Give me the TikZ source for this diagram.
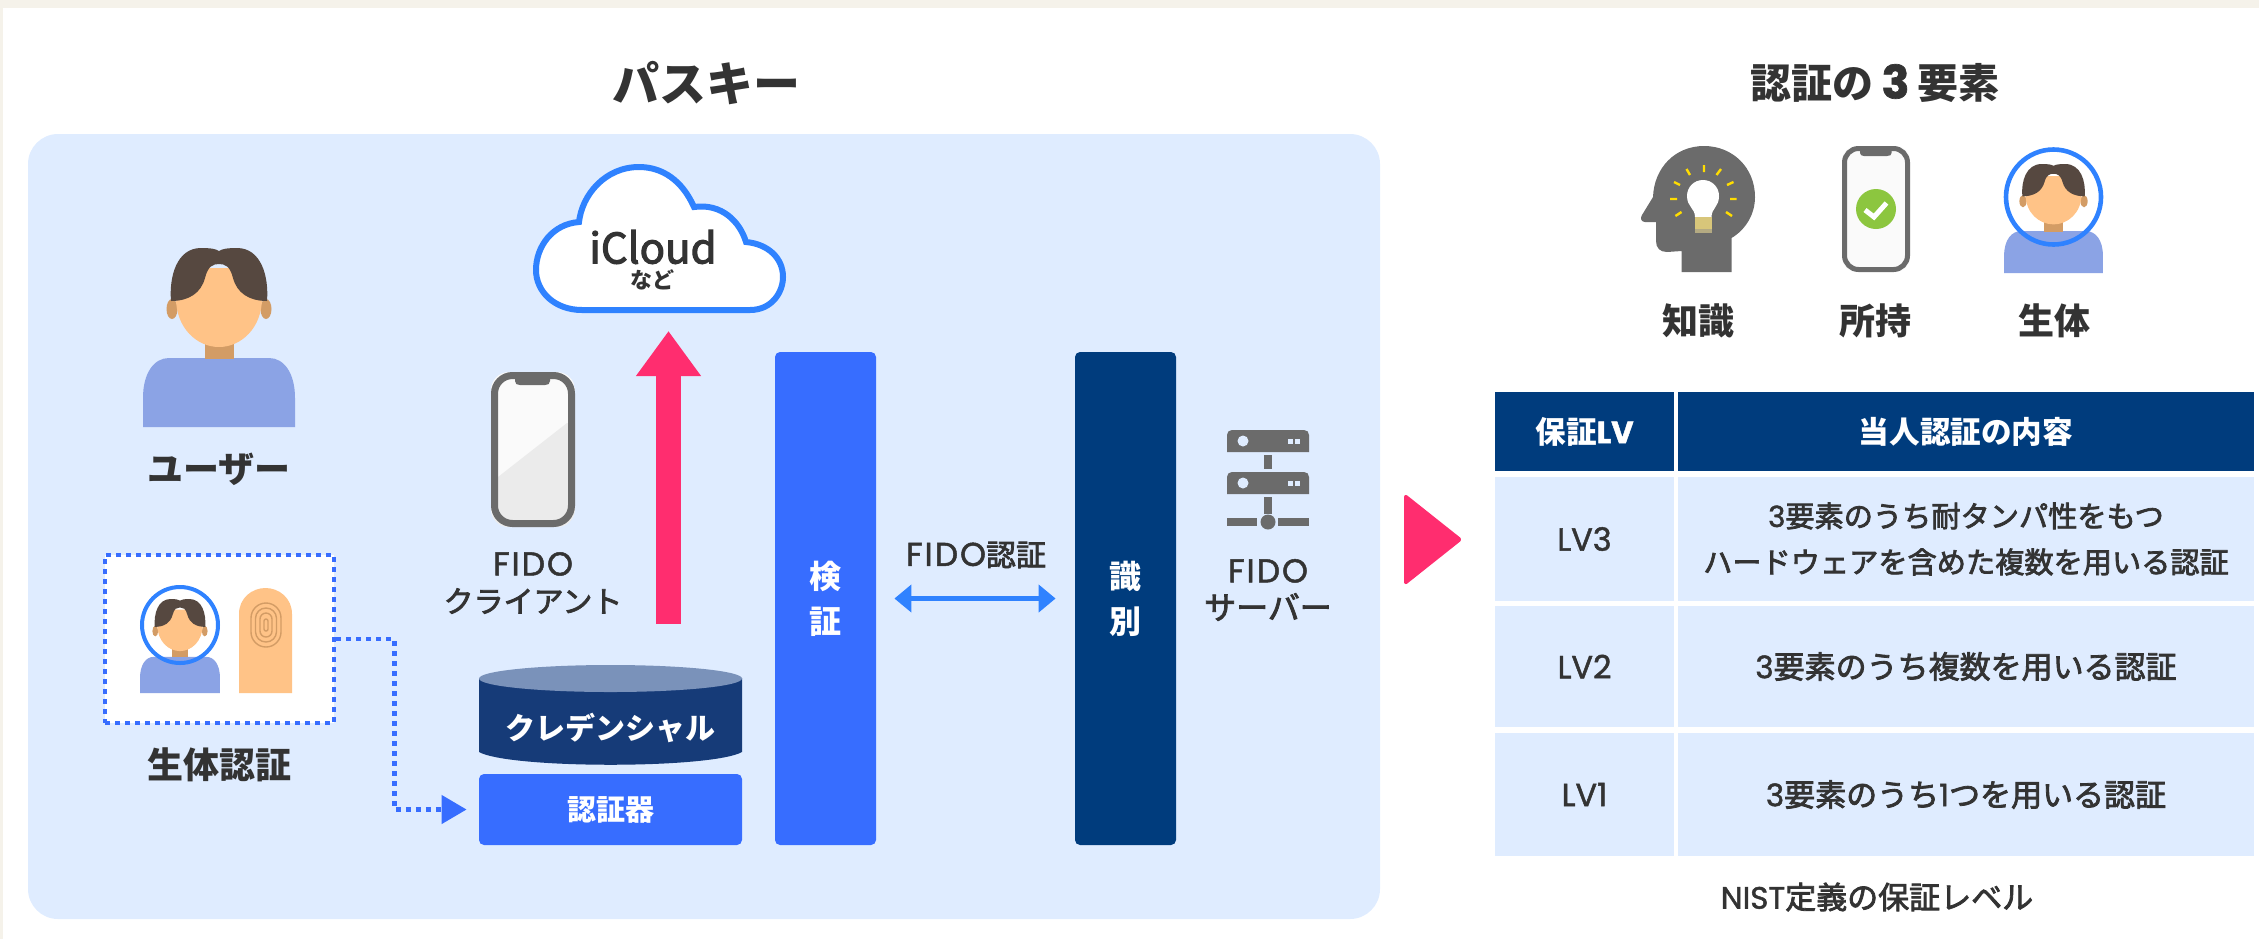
\documentclass[tikz,border=0pt]{standalone}
\usepackage{fontspec}
\setmainfont{Noto Sans CJK JP}
\newfontfamily\medfont[FakeBold=2.5]{Noto Sans CJK JP}
\newfontfamily\latinfont[FakeBold=1.5]{Poppins}
\newfontfamily\fidofont[FakeBold=1.5,LetterSpace=6]{Poppins}
\usetikzlibrary{arrows.meta}

\definecolor{paperband}{RGB}{245,242,234}
\definecolor{panelblue}{RGB}{223,236,255}
\definecolor{keyblue}{RGB}{55,109,255}
\definecolor{navyblue}{RGB}{0,60,125}
\definecolor{credblue}{RGB}{22,59,120}
\definecolor{credtop}{RGB}{122,146,186}
\definecolor{ringblue}{RGB}{47,130,255}
\definecolor{hotpink}{RGB}{255,45,111}
\definecolor{iconcolor}{RGB}{107,107,107}
\definecolor{inkcolor}{RGB}{51,51,51}
\definecolor{hairbrown}{RGB}{86,72,64}
\definecolor{skincolor}{RGB}{255,195,135}
\definecolor{skindark}{RGB}{211,156,101}
\definecolor{shirtblue}{RGB}{139,163,229}
\definecolor{checkgreen}{RGB}{140,198,63}
\definecolor{bulbbase}{RGB}{216,198,122}
\definecolor{bulbfoot}{RGB}{180,170,130}
\definecolor{raycolor}{RGB}{255,221,0}

\newcommand{\fsz}[2]{\fontsize{#1}{#2}\selectfont}
\newcommand{\lat}[1]{{\latinfont #1}}
\newcommand{\fido}{{\fidofont\fsz{16.5}{18.5}FIDO}}

\tikzset{
  boldlabel/.style={text=inkcolor,font=\bfseries\fsz{18}{22},inner sep=0pt},
  medlabel/.style={text=inkcolor,font=\medfont\fsz{15}{18.5},align=center,inner sep=0pt},
  barbox/.style={rounded corners=2.5pt,minimum width=50.5pt,minimum height=246.5pt,inner sep=0pt,text=white,align=center,font=\bfseries\fsz{16}{22.5}},
  headcell/.style={fill=navyblue,text=white,inner sep=0pt,align=center,font=\bfseries\fsz{15.3}{20}},
  levelcell/.style={fill=panelblue,text=inkcolor,inner sep=0pt,align=center,font=\medfont\fsz{14.6}{23}},
  ringline/.style={draw=ringblue,line width=2pt},
  dotline/.style={draw=keyblue,line width=2.25pt,dash pattern=on 2.6pt off 2.4pt},
  pics/person/.style={code={
    %Shape: Body
    \fill[shirtblue] (-76,179) -- (-76,150) .. controls (-76,125) and (-65,110) .. (-50,110) -- (50,110) .. controls (65,110) and (76,125) .. (76,150) -- (76,179) -- cycle ;
    %Shape: Neck
    \fill[skindark] (-14.5,90) rectangle (14.5,111) ;
    %Shape: Ears
    \fill[skindark] (-47,61) ellipse [x radius=5.5, y radius=10] ;
    \fill[skindark] (47,61) ellipse [x radius=5.5, y radius=10] ;
    %Shape: Face
    \fill[skincolor] (-43,20) -- (-43,50) .. controls (-43,80) and (-22,99) .. (0,99) .. controls (22,99) and (43,80) .. (43,50) -- (43,20) -- cycle ;
    %Shape: Hair
    \fill[hairbrown] (-48,53) .. controls (-50,28) and (-42,0) .. (-18,0) .. controls (-8,0) and (-3,1) .. (0,3) .. controls (3,1) and (8,0) .. (18,0) .. controls (42,0) and (50,28) .. (48,53) .. controls (30,53) and (18,45) .. (14,30) .. controls (11,18) and (6,16) .. (0,16) .. controls (-6,16) and (-11,18) .. (-14,30) .. controls (-18,45) and (-30,53) .. (-48,53) -- cycle ;
  }},
}

\begin{document}
\begin{tikzpicture}[x=0.5pt,y=0.5pt,yscale=-1,xscale=1]
\useasboundingbox (0,0) rectangle (2259,939);

%Shape: Page edge
\fill[paperband] (0,0) rectangle (2259,8) ;
\fill[paperband] (0,0) rectangle (3,939) ;

%Shape: Panel
\fill[panelblue,rounded corners=15pt] (28,134) rectangle (1380,919) ;

\node[boldlabel,font=\bfseries\fsz{23.5}{26}] (passkeytitle) at (706,83) {パスキー};

%Shape: User
\pic[yscale=-1] at (219,248) {person};
\node[boldlabel] (userlabel) at (219,469) {ユーザー};

%Shape: Cloud
\draw[draw=ringblue,fill=white,line width=3pt] (582,310) -- (750,310) .. controls (772,310) and (783,292) .. (783,277) .. controls (783,258) and (768,244) .. (746,242) .. controls (740,222) and (722,203) .. (694,207) .. controls (682,180) and (662,167) .. (639,167) .. controls (605,167) and (582,195) .. (579,222) .. controls (552,224) and (536,247) .. (536,270) .. controls (536,292) and (555,310) .. (582,310) -- cycle ;
\node[text=inkcolor,font=\medfont\fsz{21}{24},inner sep=0pt] (icloudlabel) at (653,247) {iCloud};
\node[text=inkcolor,font=\bfseries\fsz{11}{13},inner sep=0pt] (nadolabel) at (652,280) {など};

%Shape: Phone
\begin{scope}
\clip[rounded corners=9pt] (491,372) rectangle (575,527) ;
\fill[white!98!black] (491,372) rectangle (575,527) ;
\fill[white!92!black] (498,477) -- (567,423) -- (575,423) -- (575,527) -- (491,527) -- cycle ;
\end{scope}
\fill[iconcolor] (515,372) -- (515,381) .. controls (515,384) and (517,385) .. (520,385) -- (545,385) .. controls (548,385) and (550,384) .. (550,381) -- (550,372) -- cycle ;
\draw[iconcolor,line width=3.5pt,rounded corners=9pt] (494.5,375.5) rectangle (571.5,523.5) ;
\node[medlabel] (clientlabel) at (533,583) {\fido\\クライアント};

%Shape: Biometric box
\node[dotline,fill=white,minimum width=114.5pt,minimum height=84pt,inner sep=0pt] (biobox) at (219.5,639) {};
\pic[scale=0.526,yscale=-1] at (180,599) {person};
\draw[ringline] (180,625) circle [radius=38] ;
%Shape: Finger
\fill[skincolor] (239,693) -- (239,614) .. controls (239,598) and (252,588) .. (265.5,588) .. controls (279,588) and (292,598) .. (292,614) -- (292,693) -- cycle ;
\draw[skindark,line width=0.7pt,rounded corners=7.5pt] (251,603) rectangle (281,647) ;
\draw[skindark,line width=0.7pt,rounded corners=5.2pt] (255.5,608) rectangle (276.5,642) ;
\draw[skindark,line width=0.7pt,rounded corners=3pt] (260,613) rectangle (272,637) ;
\draw[skindark,line width=0.7pt,rounded corners=1pt] (264,619) rectangle (268,631) ;
\node[boldlabel] (biolabel) at (219.5,765) {生体認証};

%Shape: Credential
\fill[credblue] (479,678) -- (479,752) .. controls (510,769) and (711,769) .. (742,752) -- (742,678) -- cycle ;
\fill[credtop] (610.5,678.5) ellipse [x radius=131.5, y radius=13.5] ;
\node[text=white,font=\bfseries\fsz{15}{18},inner sep=0pt] (credlabel) at (610,728) {クレデンシャル};
\node[fill=keyblue,rounded corners=2.5pt,minimum width=131.5pt,minimum height=35.5pt,inner sep=0pt,text=white,font=\bfseries\fsz{14.5}{18}] (authbox) at (610.5,809.5) {認証器};

%Straight Lines [biometric to authenticator]
\draw[dotline,shorten >=6pt,-{Triangle[length=12.5pt,width=14pt,fill=keyblue]}] (biobox.east) -- ++(58,0) |- (authbox.west) ;

%Straight Lines [upload]
\coordinate (uploadstart) at (668.5,624) ;
\coordinate (uploadtip) at (668.5,331) ;
\draw[hotpink,line width=12.5pt,-{Triangle[length=22.5pt,width=31pt]}] (uploadstart) -- (uploadtip) ;

%Shape: Bars
\node[barbox,fill=keyblue] (verifybar) at (825.5,598.5) {検\\証};
\node[barbox,fill=navyblue] (identifybar) at (1125.5,598.5) {識\\別};
\draw[ringblue,line width=2.5pt,shorten <=9pt,shorten >=9.5pt,{Triangle[length=8.5pt,width=13.5pt]}-{Triangle[length=8.5pt,width=13.5pt]}] (verifybar.east) -- (identifybar.west) ;
\node[medlabel] (fidolabel) at (976,555) {\fido 認証};

%Shape: Server
\fill[iconcolor] (1227,452) -- (1227,435) .. controls (1227,432) and (1229,430) .. (1232,430) -- (1304,430) .. controls (1307,430) and (1309,432) .. (1309,435) -- (1309,452) -- cycle ;
\fill[iconcolor] (1227,494) -- (1227,477) .. controls (1227,474) and (1229,472) .. (1232,472) -- (1304,472) .. controls (1307,472) and (1309,474) .. (1309,477) -- (1309,494) -- cycle ;
\fill[iconcolor] (1264,455) rectangle (1272,469) ;
\fill[iconcolor] (1264,497) rectangle (1272,514) ;
\fill[iconcolor] (1227,518) rectangle (1257,526) ;
\fill[iconcolor] (1278,518) rectangle (1309,526) ;
\fill[iconcolor] (1268,522) circle [radius=7.5] ;
\fill[panelblue] (1243,441) circle [radius=5.5] ;
\fill[panelblue] (1243,483) circle [radius=5.5] ;
\fill[panelblue] (1287.5,438.5) rectangle (1292.5,443.5) ;
\fill[panelblue] (1294.5,438.5) rectangle (1299.5,443.5) ;
\fill[panelblue] (1287.5,480.5) rectangle (1292.5,485.5) ;
\fill[panelblue] (1294.5,480.5) rectangle (1299.5,485.5) ;
\node[medlabel] (serverlabel) at (1268,590) {\fido\\{\fsz{16}{18.5}サーバー}};

%Shape: Triangle
\fill[hotpink,draw=hotpink,line width=1pt,line join=round,rounded corners=1pt] (1405,495) -- (1461,539.5) -- (1405,584) -- cycle ;

\node[boldlabel,font=\bfseries\fsz{20.5}{24}] (factortitle) at (1875,83) {認証の\lat{\fsz{23}{24}\,3\,}要素};

%Shape: Head
\fill[iconcolor] (1681.5,272) -- (1681.5,251) -- (1667,252) .. controls (1660,252) and (1656,248) .. (1656,241) -- (1656,222) -- (1645,222) .. controls (1641,222) and (1640,218) .. (1642,215) -- (1653,197) .. controls (1654,168) and (1675,146) .. (1704,146) .. controls (1733,146) and (1755,168) .. (1755,197) .. controls (1755,215) and (1745,230) .. (1731.5,238) -- (1731.5,272) -- cycle ;
\fill[white] (1695,217) .. controls (1695,208) and (1687,207) .. (1687,196) .. controls (1687,187) and (1694,180) .. (1703,180) .. controls (1712,180) and (1719,187) .. (1719,196) .. controls (1719,207) and (1711.5,208) .. (1711.5,217) -- cycle ;
\fill[bulbbase] (1695,217) rectangle (1711.5,229) ;
\fill[bulbfoot] (1695,229) rectangle (1711.5,233) ;
\draw[raycolor,line width=1.2pt] (1704,165) -- (1704,172) (1686.5,169) -- (1690,175) (1721,169) -- (1716.5,175) (1674,182) -- (1680,185) (1733.5,182) -- (1727,185) (1670,199) -- (1677,199) (1736.5,199) -- (1730,199) (1675.4,216) -- (1681.5,212) (1732,216) -- (1726,212) ;
\node[boldlabel] (knowlabel) at (1698,321) {知識};

%Shape: Small phone
\fill[white!98!black,rounded corners=7pt] (1842,146) rectangle (1910,272) ;
\fill[iconcolor] (1860,146) -- (1860,153) .. controls (1860,155) and (1862,156) .. (1864,156) -- (1887,156) .. controls (1890,156) and (1891.5,155) .. (1891.5,153) -- (1891.5,146) -- cycle ;
\draw[iconcolor,line width=2.5pt,rounded corners=7pt] (1844.5,148.5) rectangle (1907.5,269.5) ;
\fill[checkgreen] (1876,209) circle [radius=20] ;
\draw[white,line width=2.5pt] (1865,210) -- (1874,217) -- (1886.5,203) ;
\node[boldlabel] (ownlabel) at (1875,321) {所持};

%Shape: Face scan
\pic[xscale=0.65,yscale=-0.61] at (2053.5,164) {person};
\draw[ringline,line width=2.3pt] (2053.5,197) circle [radius=47.5] ;
\node[boldlabel] (bodylabel) at (2054,321) {生体};

%Shape: Table
\node[headcell,minimum width=89.5pt,minimum height=39.5pt] (headlevel) at (1584.5,431.5) {保証\lat{LV}};
\node[headcell,minimum width=288pt,minimum height=39.5pt] (headcontent) at (1966,431.5) {当人認証の内容};
\node[levelcell,minimum width=89.5pt,minimum height=62pt] (levelthree) at (1584.5,539) {\lat{\fsz{16}{23}LV3}};
\node[levelcell,minimum width=288pt,minimum height=62pt] (contentthree) at (1966,539) {\lat{3}要素のうち耐タンパ性をもつ\\ハードウェアを含めた複数を用いる認証};
\node[levelcell,minimum width=89.5pt,minimum height=60.5pt] (leveltwo) at (1584.5,666.5) {\lat{\fsz{16}{23}LV2}};
\node[levelcell,minimum width=288pt,minimum height=60.5pt,font=\medfont\fsz{15.5}{23}] (contenttwo) at (1966,666.5) {\lat{3}要素のうち複数を用いる認証};
\node[levelcell,minimum width=89.5pt,minimum height=61.5pt] (levelone) at (1584.5,794.5) {\lat{\fsz{16}{23}LV1}};
\node[levelcell,minimum width=288pt,minimum height=61.5pt,font=\medfont\fsz{15.5}{23}] (contentone) at (1966,794.5) {\lat{3}要素のうち\lat{1}つを用いる認証};
\node[medlabel,font=\medfont\fsz{15.5}{18}] (nistlabel) at (1877,897) {\lat{NIST}定義の保証レベル};

\end{tikzpicture}
\end{document}
